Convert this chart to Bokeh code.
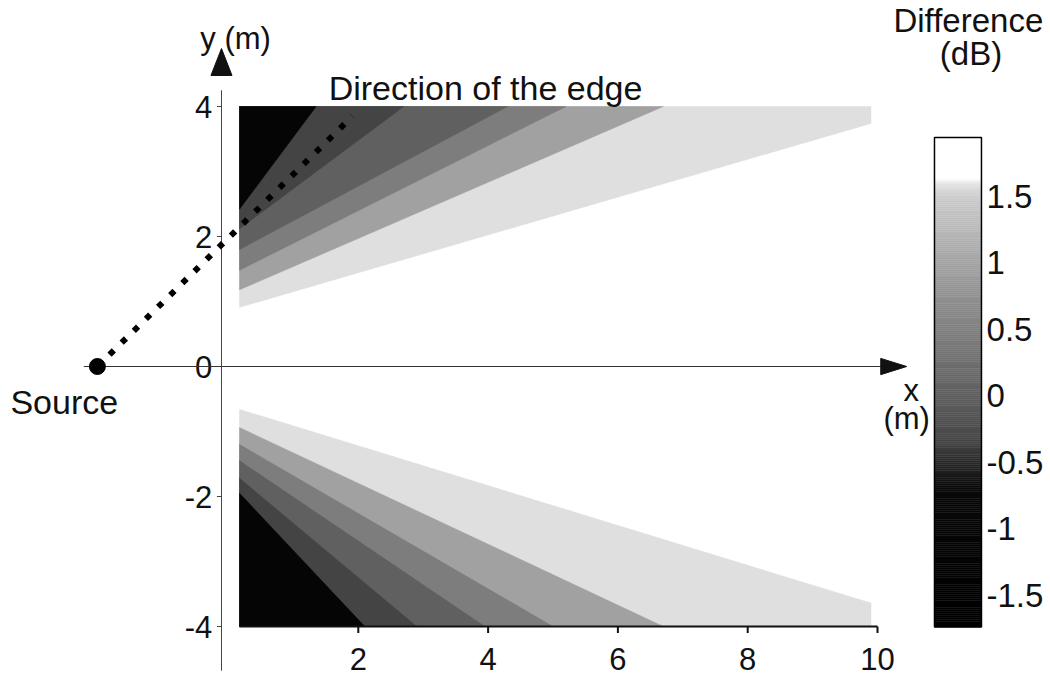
import numpy as np
from bokeh.plotting import figure
from bokeh.models import Range1d, LinearColorMapper, ColumnDataSource
from bokeh.core.properties import value
from bokeh.transform import transform
from bokeh.embed import file_html
from bokeh.resources import INLINE

# ---------------- data ----------------
# contour band boundaries (dark side -> light side), each from the left edge
# of the computed area (x = 0.17 m) to where it meets the outer edge
upper_left_y = [2.42, 2.12, 1.80, 1.48, 1.18, 0.91]
upper_end_x = [1.35, 2.70, 4.30, 5.20, 6.70, 9.90]
upper_end_y = [4.00, 4.00, 4.00, 4.00, 4.00, 3.74]
lower_left_y = [-1.95, -1.72, -1.45, -1.20, -0.94, -0.66]
lower_end_x = [2.10, 2.90, 3.95, 5.00, 6.70, 9.90]
lower_end_y = [-4.00, -4.00, -4.00, -4.00, -4.00, -3.64]
band_level_db = [-1.2, -0.35, 0.0, 0.45, 0.95, 1.58]   # level on dark side of each boundary
area_x0, area_x1, area_y = 0.17, 9.90, 4.0

source_x, source_y = -2.02, 0.0
edge_end_x, edge_end_y = 1.91, 3.85

x_ticks = [2, 4, 6, 8, 10]
x_tick_labels = ["2", "4", "6", "8", "10"]
y_ticks = [4, 2, 0, -2, -4]
y_tick_labels = ["4", "2", "0", "-2", "-4"]
cb_ticks = [1.5, 1, 0.5, 0, -0.5, -1, -1.5]
cb_tick_labels = ["1.5", "1", "0.5", "0", "-0.5", "-1", "-1.5"]
cb_low, cb_high = -1.74, 1.94

# ---------------- styling ----------------
FONT = value("Liberation Sans")
stops_v = [-1.74, -0.70, -0.35, 0.0, 0.45, 0.95, 1.50, 1.60, 1.64, 1.94]
stops_g = [0, 10, 69, 96, 125, 160, 205, 228, 255, 255]
cb_vals = np.linspace(cb_low, cb_high, 256)
grays = np.interp(cb_vals, stops_v, stops_g).round().astype(int)
palette = ["#%02x%02x%02x" % (g, g, g) for g in grays]
mapper = LinearColorMapper(palette=palette, low=cb_low, high=cb_high)

W, H = 1050, 680
x_range = Range1d(-228 / 64.9, (W - 228) / 64.9)
y_range = Range1d((366 - H) / 65.0, 366 / 65.0)

p = figure(width=W, height=H, x_range=x_range, y_range=y_range,
           output_backend="svg", toolbar_location=None,
           x_axis_type=None, y_axis_type=None, min_border=0,
           outline_line_color=None, background_fill_color="white")
p.grid.visible = False
p.extra_y_ranges = {"cb": Range1d((395 - H) / 133.0, 395 / 133.0)}

# ---------------- contour bands (painted light -> dark) ----------------
xs, ys, lv = [], [], []
for k in reversed(range(len(upper_left_y))):
    px_ = [area_x0, upper_end_x[k]]
    py_ = [upper_left_y[k], upper_end_y[k]]
    if upper_end_y[k] < area_y:
        px_.append(upper_end_x[k]); py_.append(area_y)
    px_.append(area_x0); py_.append(area_y)
    xs.append(px_); ys.append(py_); lv.append(band_level_db[k])
for k in reversed(range(len(lower_left_y))):
    px_ = [area_x0, lower_end_x[k]]
    py_ = [lower_left_y[k], lower_end_y[k]]
    if lower_end_y[k] > -area_y:
        px_.append(lower_end_x[k]); py_.append(-area_y)
    px_.append(area_x0); py_.append(-area_y)
    xs.append(px_); ys.append(py_); lv.append(band_level_db[k])
bands = ColumnDataSource(dict(xs=xs, ys=ys, level=lv))
p.patches("xs", "ys", source=bands, fill_color=transform("level", mapper),
          line_color=transform("level", mapper), line_width=0.5)

# ---------------- axes drawn in data space ----------------
ink = "#111111"
# y axis
yax_x = -0.108
p.segment(x0=[yax_x], y0=[4.25], x1=[yax_x], y1=[-4.68], line_color="#444444", line_width=1)
p.segment(x0=[yax_x] * len(y_ticks), y0=y_ticks, x1=[yax_x - 0.07] * len(y_ticks), y1=y_ticks,
          line_color="#444444", line_width=1)
p.text(x=[-0.25] * len(y_ticks), y=y_ticks, text=y_tick_labels, text_font=FONT,
       text_font_size="31px", text_align="right", text_baseline="middle", text_color=ink)
p.patch(x=[yax_x - 0.162, yax_x + 0.162, yax_x], y=[4.477, 4.477, 4.892], color=ink)
p.text(x=[0.11], y=[5.05], text=["y (m)"], text_font=FONT, text_font_size="31px",
       text_align="center", text_baseline="alphabetic", text_color=ink)

# x axis through y = 0
p.segment(x0=[-2.23], y0=[0], x1=[10.1], y1=[0], line_color="#333333", line_width=1)
p.patch(x=[10.05, 10.05, 10.45], y=[0.125, -0.125, 0.0], color=ink)
p.text(x=[10.52, 10.45], y=[-0.37, -0.80], text=["x", "(m)"], text_font=FONT,
       text_font_size="31px", text_align="center", text_baseline="middle", text_color=ink)

# bottom axis at y = -4
p.segment(x0=[area_x0], y0=[-4], x1=[10.0], y1=[-4], line_color=ink, line_width=2)
p.segment(x0=x_ticks, y0=[-4] * len(x_ticks), x1=x_ticks, y1=[-4.1] * len(x_ticks),
          line_color=ink, line_width=2)
p.text(x=x_ticks, y=[-4.5] * len(x_ticks), text=x_tick_labels, text_font=FONT,
       text_font_size="31px", text_align="center", text_baseline="middle", text_color=ink)

# source and edge direction
p.line(x=[source_x, edge_end_x], y=[source_y, edge_end_y], line_color="black",
       line_width=6, line_dash="6 11")
p.scatter(x=[source_x], y=[source_y], size=16, marker="circle", color="black")
p.text(x=[-2.53], y=[-0.55], text=["Source"], text_font=FONT, text_font_size="34px",
       text_align="center", text_baseline="middle", text_color=ink)
p.text(x=[3.96], y=[4.277], text=["Direction of the edge"], text_font=FONT,
       text_font_size="34px", text_align="center", text_baseline="alphabetic", text_color=ink)

# ---------------- colour bar ----------------
edges = np.linspace(cb_low, cb_high, len(palette) + 1)
cb_left, cb_right = 10.878, 11.602
p.quad(left=cb_left, right=cb_right, bottom=edges[:-1], top=edges[1:], fill_color=palette,
       line_color=palette, line_width=0.5, y_range_name="cb")
p.quad(left=[cb_left], right=[cb_right], bottom=[cb_low], top=[cb_high], fill_color=None,
       line_color="black", line_width=1.5, y_range_name="cb")
p.text(x=[11.68] * len(cb_ticks), y=cb_ticks, text=cb_tick_labels, text_font=FONT,
       text_font_size="33px", text_align="left", text_baseline="middle", text_color=ink,
       y_range_name="cb")
p.text(x=[11.40, 11.44], y=[5.32, 4.82], text=["Difference", "(dB)"], text_font=FONT,
       text_font_size="33px", text_align="center", text_baseline="middle", text_color=ink)

open("out.html", "w").write(file_html(p, INLINE))
